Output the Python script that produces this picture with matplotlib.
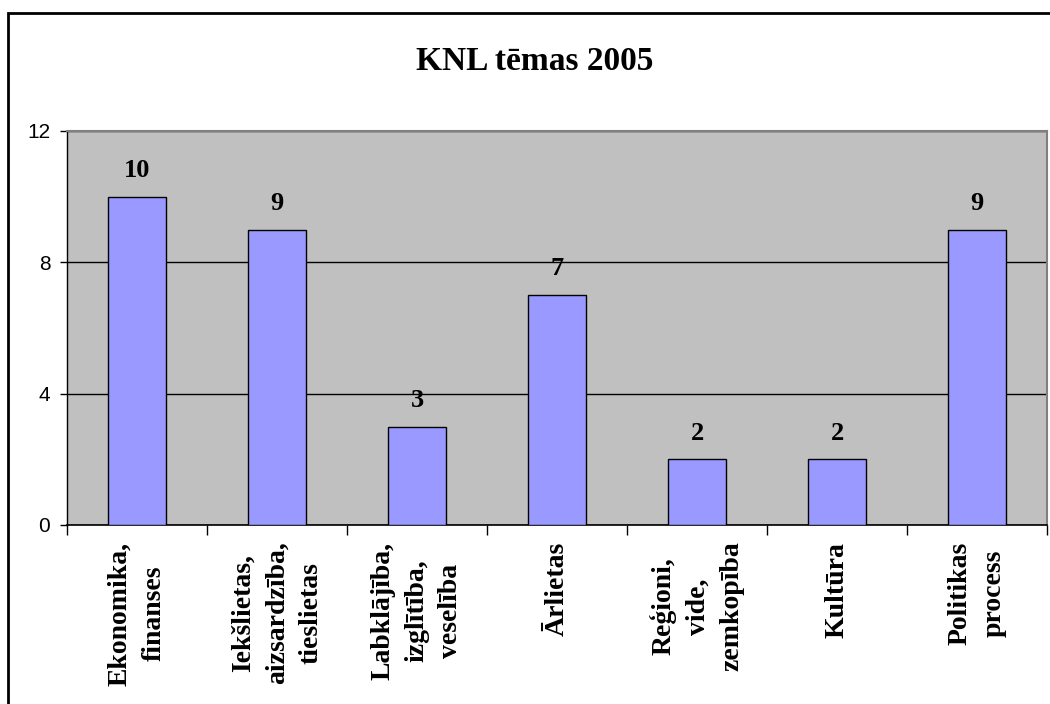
import matplotlib.pyplot as plt
import numpy as np
from matplotlib.patches import Rectangle


categories = ['Ekonomika,\nfinanses', 'Iekšlietas,\naizsardzība,\ntieslietas',
              'Labklājība,\nizglītība,\nveselība', 'Ārlietas',
              'Reģioni,\nvide,\nzemkopība', 'Kultūra', 'Politikas\nprocess']
values = [10, 9, 3, 7, 2, 2, 9]
yticks = [0, 4, 8, 12]

x = np.arange(len(categories))

fig = plt.figure(figsize=(10.5, 7.04), dpi=100)
ax = fig.add_axes([67 / 1050, 1 - 525 / 704, 980 / 1050, 394 / 704])

# outer chart frame (cut off on right and bottom like the source image)
fig.patches.append(Rectangle((8 / 1050, -0.1), 1.2, 1.1 - 13 / 704, transform=fig.transFigure,
                             fill=False, edgecolor='black', linewidth=2, zorder=0))

ax.set_facecolor('#C0C0C0')
for s in ax.spines.values():
    s.set_color('#808080')
    s.set_linewidth(1.5)
ax.spines['bottom'].set_color('black')
ax.spines['bottom'].set_linewidth(1.2)
ax.spines['left'].set_color('black')
ax.spines['left'].set_linewidth(1.0)

ax.set_axisbelow(True)
ax.yaxis.grid(True, color='black', linewidth=1)
ax.bar(x, values, width=0.42, color='#9999FF', edgecolor='black', linewidth=1, zorder=3)

for xi, v in zip(x, values):
    ax.text(xi, v + 0.45, str(v), ha='center', va='bottom', fontsize=19,
            fontweight='bold', family='Liberation Serif')

ax.set_xlim(-0.5, len(categories) - 0.5)
ax.set_ylim(0, 12)
ax.set_yticks(yticks)
ax.set_yticklabels([str(t) for t in yticks], family='Liberation Sans', fontsize=15)
ax.tick_params(axis='y', length=5, width=1, pad=7)

# ticks at category boundaries, labels at centers
ax.set_xticks(np.arange(len(categories) + 1) - 0.5)
ax.set_xticklabels([])
ax.tick_params(axis='x', which='major', length=7, width=1, direction='out')
ax.set_xticks(x, minor=True)
ax.set_xticklabels(categories, minor=True, rotation=90, ha='center', va='top',
                   multialignment='center', fontsize=20, fontweight='bold',
                   family='Liberation Serif', linespacing=1.45)
ax.tick_params(axis='x', which='minor', length=0, pad=12)

fig.text(535 / 1050, 1 - 70 / 704, 'KNL tēmas 2005', ha='center', va='baseline',
         fontsize=24, fontweight='bold', family='Liberation Serif')

fig.savefig('out.png', dpi=100)
